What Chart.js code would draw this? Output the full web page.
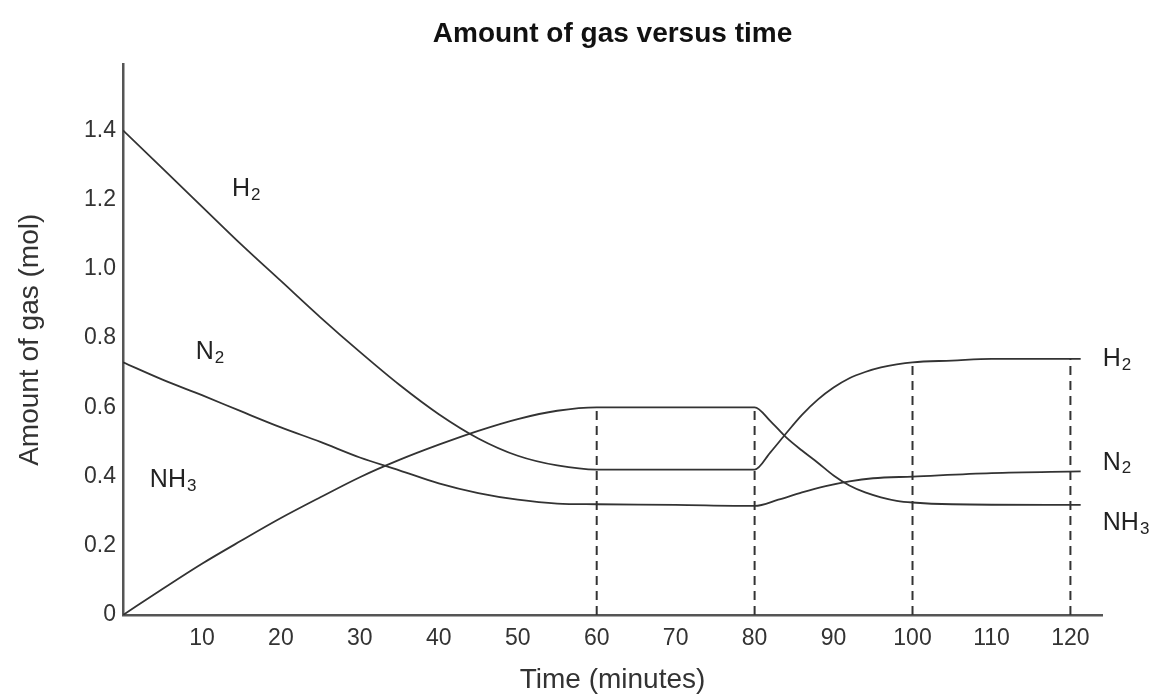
<!DOCTYPE html>
<html>
<head>
<meta charset="utf-8">
<title>Amount of gas versus time</title>
<script src="https://cdn.jsdelivr.net/npm/chart.js@4.4.1/dist/chart.umd.min.js"></script>
<style>html,body{margin:0;padding:0;background:#fff}canvas{display:block}</style>
</head>
<body>
<canvas id="gas" width="1154" height="697"></canvas>
<script>
// amounts (mol) against time (min)
const h2Time=[0,5,10,15,20,25,30,35,40,45,50,55,60,80,82,84,86,88,90,92,94,96,98,100,105,110,121.3];
const h2Mol=[1.40,1.29,1.18,1.07,0.965,0.86,0.76,0.665,0.58,0.51,0.46,0.432,0.42,0.42,0.47,0.525,0.578,0.622,0.657,0.684,0.702,0.715,0.724,0.73,0.735,0.74,0.74];
const n2Time=[0,5,10,15,20,25,30,35,40,45,50,55,60,70,80,83,86,89,92,95,100,110,121.3];
const n2Mol=[0.73,0.68,0.635,0.588,0.542,0.50,0.455,0.418,0.38,0.352,0.333,0.322,0.32,0.318,0.315,0.333,0.354,0.372,0.386,0.395,0.40,0.41,0.415];
const nh3Time=[0,5,10,15,20,25,30,35,40,45,50,55,60,80,82,84,86,88,90,92,94,96,98,100,105,121.3];
const nh3Mol=[0,0.075,0.148,0.215,0.28,0.34,0.398,0.448,0.492,0.532,0.566,0.59,0.6,0.6,0.56,0.513,0.475,0.44,0.403,0.374,0.354,0.34,0.33,0.325,0.32,0.318];
// dashed drop lines
const markTimes=[60,80,100,120];
const markTops=[0.6,0.6,0.73,0.74];
const xTicks=[10,20,30,40,50,60,70,80,90,100,110,120];
const yTicks=[0,0.2,0.4,0.6,0.8,1.0,1.2,1.4];
// species names on the plot (left edge time, mol)
const labelNames=['H','N','NH','H','N','NH'];
const labelSubs=['2','2','3','2','2','3'];
const labelTimes=[13.8,9.2,3.4,124.1,124.1,124.1];
const labelMols=[1.23,0.76,0.39,0.74,0.44,0.266];

const FONT='"Liberation Sans", Arial, sans-serif';
const INK='#333';

const pts=(ts,vs)=>ts.map((t,i)=>({x:t,y:vs[i]}));
const curve=(label,ts,vs)=>({label,data:pts(ts,vs),borderColor:INK,borderWidth:1.8,pointRadius:0,cubicInterpolationMode:'monotone',fill:false});
const drops=markTimes.map((t,i)=>({label:'t'+t,data:[{x:t,y:0},{x:t,y:markTops[i]}],borderColor:INK,borderWidth:2,borderDash:[9,6],pointRadius:0,tension:0}));

const speciesLabels={id:'speciesLabels',afterDatasetsDraw(chart){
  const {ctx,scales:{x,y}}=chart;
  ctx.save(); ctx.fillStyle='#222'; ctx.textBaseline='middle'; ctx.textAlign='left';
  labelNames.forEach((n,i)=>{
    const px=x.getPixelForValue(labelTimes[i]), py=y.getPixelForValue(labelMols[i]);
    ctx.font='25px '+FONT; ctx.fillText(n,px,py);
    const w=ctx.measureText(n).width;
    ctx.font='17px '+FONT; ctx.fillText(labelSubs[i],px+w+1,py+6);
  });
  ctx.restore();
}};

new Chart(document.getElementById('gas'),{
  type:'line',
  data:{datasets:[curve('H2',h2Time,h2Mol),curve('N2',n2Time,n2Mol),curve('NH3',nh3Time,nh3Mol),...drops]},
  options:{
    responsive:false,animation:false,events:[],
    layout:{padding:{left:0,right:52,top:0,bottom:0}},
    plugins:{
      legend:{display:false},tooltip:{enabled:false},
      title:{display:true,fullSize:false,text:'Amount of gas versus time',color:'#111',font:{family:FONT,size:28,weight:'bold'},padding:{top:17,bottom:14}}
    },
    scales:{
      x:{type:'linear',min:0,max:124,
        afterBuildTicks:s=>{s.ticks=xTicks.map(v=>({value:v}));},
        afterFit:s=>{s.height=82;},
        grid:{display:false,drawTicks:false},border:{color:'#555',width:2.5},
        ticks:{color:INK,font:{family:FONT,size:23},padding:10,maxRotation:0,autoSkip:false},
        title:{display:true,text:'Time (minutes)',color:INK,font:{family:FONT,size:28},padding:{top:0,bottom:0}}},
      y:{type:'linear',min:0,max:1.59,
        afterBuildTicks:s=>{s.ticks=yTicks.map(v=>({value:v}));},
        afterFit:s=>{s.width=123;},
        grid:{display:false,drawTicks:false},border:{color:'#555',width:2.5},
        ticks:{color:INK,font:{family:FONT,size:23},padding:7,callback:v=>v===0?'0':v.toFixed(1)},
        title:{display:true,text:'Amount of gas (mol)',color:INK,font:{family:FONT,size:28},padding:{top:13,bottom:0}}}
    }
  },
  plugins:[speciesLabels]
});
</script>
</body>
</html>
